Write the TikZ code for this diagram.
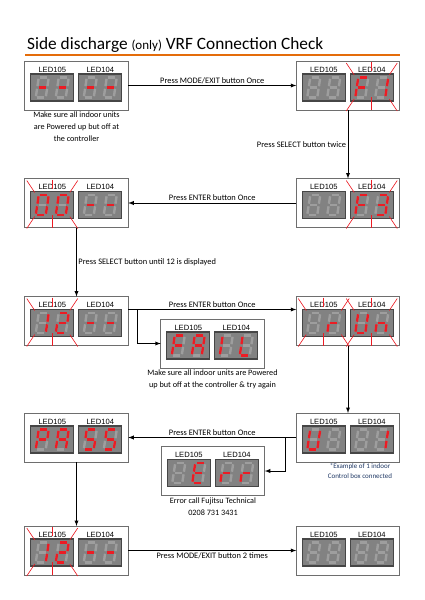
\documentclass[tikz,border=0pt]{standalone}
\usepackage{fontspec}
\setmainfont{Carlito}
\newfontfamily\ledfont{Liberation Sans}
\usetikzlibrary{arrows,positioning,calc}

\definecolor{ledred}{RGB}{236,28,36}
\definecolor{panelgrey}{RGB}{130,130,130}
\definecolor{ghostgrey}{RGB}{158,158,158}
\definecolor{rimgrey}{RGB}{70,70,70}
\definecolor{boxgrey}{RGB}{110,110,110}
\definecolor{ruleorange}{RGB}{228,108,10}
\definecolor{notenavy}{RGB}{31,56,100}

\tikzset{
    unitbox/.style={draw=boxgrey, line width=0.9pt, fill=white, minimum width=103.5pt, minimum height=49pt, inner sep=0pt, outer sep=0pt},
    panel/.style={draw=rimgrey, line width=1.1pt, fill=panelgrey, minimum width=43pt, minimum height=27pt, inner sep=0pt, outer sep=0pt},
    ledlabel/.style={font=\ledfont\fontsize{7.6}{8}\selectfont, anchor=base, inner sep=0pt},
    ghostseg/.style={draw=ghostgrey, line width=2.4pt, shorten >=1.3pt, shorten <=1.3pt},
    litseg/.style={draw=ledred, line width=2.4pt, shorten >=1.3pt, shorten <=1.3pt},
    flashline/.style={draw=ledred, line width=0.6pt},
    step arrow/.style={->, >=latex, line width=0.9pt},
    steplabel/.style={font=\fontsize{8.4}{10}\selectfont, inner sep=1.5pt},
    note/.style={font=\fontsize{8.2}{12}\selectfont, align=center, inner sep=0pt},
}

% segments of one digit, y pointing down
\def\sega{(-5,-10) -- (5,-10)}
\def\segb{(5,-10) -- (5,0)}
\def\segc{(5,0) -- (5,10)}
\def\segd{(-5,10) -- (5,10)}
\def\sege{(-5,0) -- (-5,10)}
\def\segf{(-5,-10) -- (-5,0)}
\def\segg{(-5,0) -- (5,0)}
\def\segx{}

\newcommand{\digitat}[2]{%
    \begin{scope}[shift={#1}, xslant=0.15]
        \foreach \s in {a,b,c,d,e,f,g} \draw[ghostseg] \csname seg\s\endcsname;
        \foreach \s in {#2} \draw[litseg] \csname seg\s\endcsname;
    \end{scope}}

\newcommand{\ledunit}[6]{%
    \node (#1) [unitbox] at #2 {};
    \node (#1-a) [panel] at ($(#1.north west)+(27.5,26.5)$) {};
    \node (#1-b) [panel] at ($(#1.north west)+(75.5,26.5)$) {};
    \node (#1-at) [ledlabel] at ($(#1-a.north)+(0,-2)$) {LED105};
    \node (#1-bt) [ledlabel] at ($(#1-b.north)+(0,-2)$) {LED104};
    \digitat{($(#1-a.center)+(-10,0)$)}{#3}
    \digitat{($(#1-a.center)+(10,0)$)}{#4}
    \digitat{($(#1-b.center)+(-10,0)$)}{#5}
    \digitat{($(#1-b.center)+(10,0)$)}{#6}}

\newcommand{\flashmarks}[1]{%
    \draw[flashline] ($(#1.north west)+(-4,-11)$) -- ($(#1.north west)+(4,1)$);
    \draw[flashline] ($(#1.north)+(0,-12)$) -- ($(#1.north)+(0,-3)$);
    \draw[flashline] ($(#1.north east)+(4,-11)$) -- ($(#1.north east)+(-4,1)$);
    \draw[flashline] ($(#1.south west)+(-4,10)$) -- ($(#1.south west)+(4,-2)$);
    \draw[flashline] ($(#1.south)+(0,9)$) -- ($(#1.south)+(0,-4)$);
    \draw[flashline] ($(#1.south east)+(4,10)$) -- ($(#1.south east)+(-4,-2)$);}

\begin{document}
\begin{tikzpicture}[x=1pt, y=-1pt]
    \useasboundingbox (0,0) rectangle (424,600);

    \node (title) [anchor=base west, inner sep=0pt, font=\fontsize{17.3}{19}\selectfont] at (27,49) {Side discharge {\fontsize{13}{15}\selectfont(only)} VRF Connection Check};
    \draw[ruleorange, line width=1.2pt] (25,55) -- (400,55);

    \ledunit{r1l}{(76.5,85.5)}{g}{g}{g}{g}
    \ledunit{r1r}{(348,85.5)}{x}{x}{a,f,e,g}{b,c}
    \flashmarks{r1r-b}
    \ledunit{r2r}{(348,203)}{x}{x}{a,f,e,g}{a,b,c,d,g}
    \flashmarks{r2r-b}
    \ledunit{r2l}{(76.5,203)}{a,b,c,d,e,f}{a,b,c,d,e,f}{g}{g}
    \flashmarks{r2l-a}
    \ledunit{r3l}{(76.5,321)}{b,c}{a,b,g,e,d}{g}{g}
    \flashmarks{r3l-a}
    \ledunit{r3r}{(348,321)}{x}{e,g}{b,c,d,e,f}{c,e,g}
    \flashmarks{r3r-a}
    \flashmarks{r3r-b}
    \ledunit{fail}{(212.5,343.5)}{a,f,e,g}{a,b,c,e,f,g}{e,f}{d,e,f}
    \ledunit{r4r}{(348,437.5)}{b,c,d,e,f}{x}{x}{b,c}
    \ledunit{r4l}{(76.5,437.5)}{a,b,e,f,g}{a,b,c,e,f,g}{a,f,g,c,d}{a,f,g,c,d}
    \ledunit{err}{(213,471)}{x}{a,d,e,f,g}{e,g}{e,g}
    \ledunit{r5l}{(76.5,550.5)}{b,c}{a,b,g,e,d}{g}{g}
    \flashmarks{r5l-a}
    \ledunit{r5r}{(348,550.5)}{x}{x}{x}{x}

    \node (n1) [note, below=2pt of r1l] {Make sure all indoor units\\are Powered up but off at\\the controller};
    \node (n3) [note, below=2pt of fail] {Make sure all indoor units are Powered\\up but off at the controller \& try again};
    \node (n4) [note, below=2pt of err] {Error call Fujitsu Technical\\0208 731 3431};
    \node (n5) [note, anchor=north, text=notenavy, font=\fontsize{7}{10}\selectfont] at ($(r4r.south)+(12,1.5)$) {*Example of 1 indoor\\Control box connected};

    \draw[step arrow] (r1l) -- (r1r) node[steplabel, midway, above] {Press MODE/EXIT button Once};
    \draw[step arrow] (r1r) -- (r2r) node[steplabel, midway, left] {Press SELECT button twice};
    \draw[step arrow] (r2r) -- (r2l) node[steplabel, midway, above] {Press ENTER button Once};
    \draw[step arrow] (r2l) -- (r3l) node[steplabel, midway, right] {Press SELECT button until 12 is displayed};
    \draw[step arrow] (r3l.east |- r3l-b.north) -- (r3r.west |- r3l-b.north) node[steplabel, midway, above] {Press ENTER button Once};
    \coordinate (split3) at ($(r3l.east |- r3l-b.north)+(9,0)$);
    \draw[step arrow] (split3) |- (fail.west);
    \draw[step arrow] (r3r) -- (r4r);
    \draw[step arrow] (r4r) -- (r4l) node[steplabel, midway, above] {Press ENTER button Once};
    \coordinate (split4) at ($(r4r.west)+(-11,0)$);
    \draw[step arrow] (split4) |- (err.east);
    \draw[step arrow] (r4l) -- (r5l);
    \draw[step arrow] (r5l) -- (r5r) node[steplabel, midway, below] {Press MODE/EXIT button 2 times};
\end{tikzpicture}
\end{document}
